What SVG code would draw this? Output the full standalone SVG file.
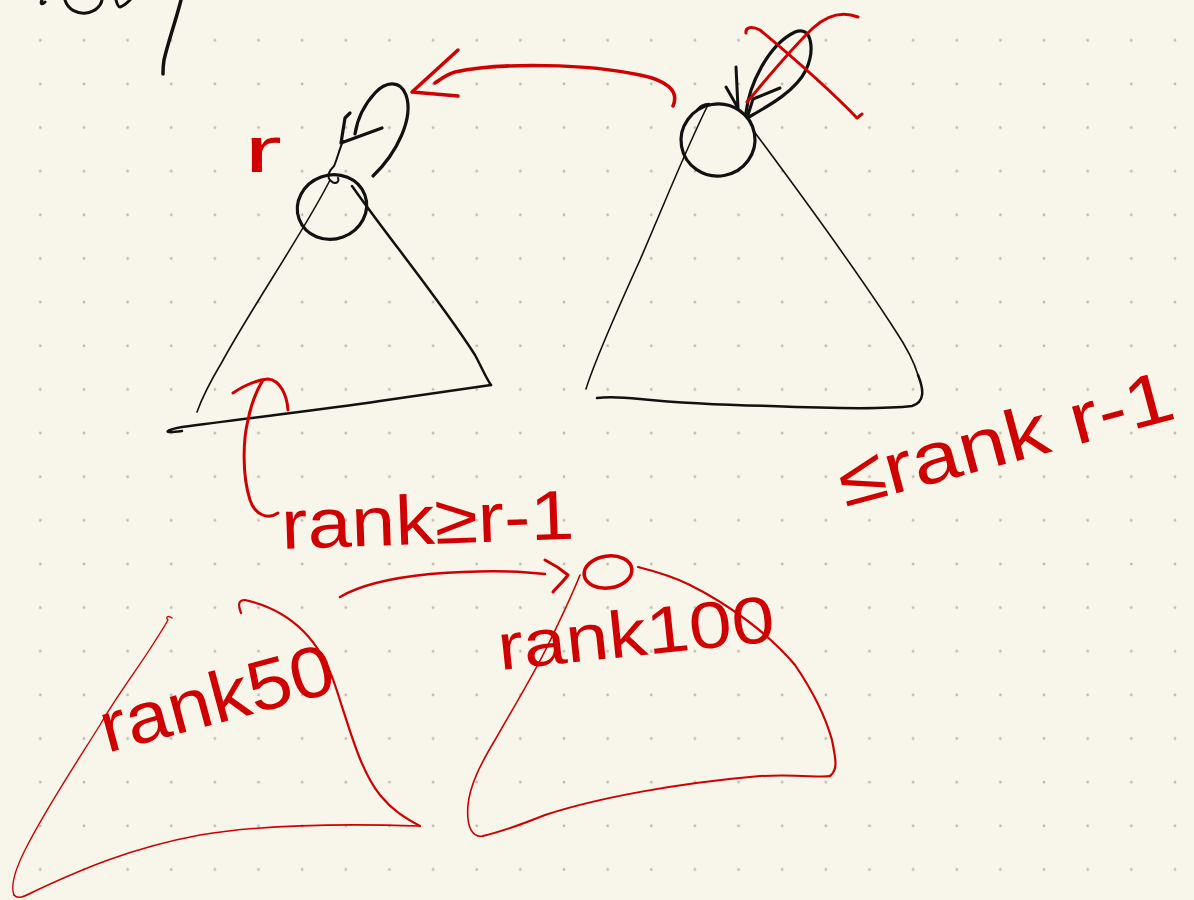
<svg xmlns="http://www.w3.org/2000/svg" width="1194" height="900" viewBox="0 0 1194 900">
  <defs>
    <pattern id="dots" patternUnits="userSpaceOnUse" x="18.5" y="18.5" width="43.64" height="43.64">
      <circle cx="21.82" cy="21.82" r="1.4" fill="#bdbbb1"/>
    </pattern>
    <style>
      .ink{fill:none;stroke:#111;stroke-linecap:round;stroke-linejoin:round}
      .red{fill:none;stroke:#d00000;stroke-linecap:round;stroke-linejoin:round}
      .lbl{font-family:"Liberation Sans",Arial,sans-serif;fill:#d00000}
    </style>
  </defs>
  <rect width="1194" height="900" fill="#f8f6ea"/>
  <rect width="1194" height="900" fill="url(#dots)"/>

  <!-- cut-off ink at the top edge -->
  <g id="top-fragment">
    <path class="ink" stroke-width="3" d="M42,0 C40,4 42,5 45,2"/>
    <path class="ink" stroke-width="3" d="M65,0 C68,10 78,14 86,13 C95,12 101,6 102,0"/>
    <path class="ink" stroke-width="3" d="M116,0 C117,4 118,7 120,7 C124,6 128,2 130,0"/>
    <path class="ink" stroke-width="3.5" d="M181,0 C176,20 168,42 164,60 C163,66 163,70 163,74"/>
  </g>

  <!-- left tree -->
  <g id="left-tree">
    <ellipse class="ink" stroke-width="3.2" cx="332" cy="207" rx="35" ry="32" transform="rotate(-20 332 207)"/>
    <path class="ink" stroke-width="1.6" d="M330,180 C305,230 250,310 222,362 C210,382 202,398 197,412"/>
    <path class="ink" stroke-width="2.5" d="M352,186 C390,240 440,300 475,355 C482,368 486,378 491,385"/>
    <path class="ink" stroke-width="2.5" d="M491,385 L380,401 C320,410 240,419 182,427 C166,430 160,434 182,431"/>
    <path class="ink" stroke-width="2" d="M343,141 C339,150 337,160 334,166 C329,171 326,177 331,181 C335,185 340,182 338,178"/>
    <path class="ink" stroke-width="3.2" d="M373,176 C397,153 414,118 406,95 C400,79 385,82 375,93 C363,106 357,121 355,134"/>
    <path class="ink" stroke-width="3.2" d="M382,128 L341,143 L345,118 L350,113"/>
  </g>

  <!-- right tree -->
  <g id="right-tree">
    <ellipse class="ink" stroke-width="3.2" cx="718" cy="140" rx="37" ry="36" transform="rotate(-10 718 140)"/>
    <path class="ink" stroke-width="2.5" d="M697,110 C700,106 705,104 709,104"/>
    <path class="ink" stroke-width="1.6" d="M708,105 C690,140 670,190 640,260 C615,315 595,360 586,389"/>
    <path class="ink" stroke-width="1.6" d="M753,130 C790,180 850,260 895,330 C905,345 913,358 918,375"/>
    <path class="ink" stroke-width="2.5" d="M918,375 C924,390 925,402 912,406 C880,410 820,408 770,406 C720,405 670,402 640,399 C620,397 605,397 597,398"/>
    <path class="ink" stroke-width="3.2" d="M746,113 C749,85 768,45 795,32 C812,25 815,50 806,70 C796,90 772,104 749,117"/>
    <path class="ink" stroke-width="3" d="M780,88 L753,99 L748,115"/>
    <path class="ink" stroke-width="3" d="M736,67 L738,108 M726,87 L738,108"/>
  </g>

  <!-- red marks -->
  <g id="connectors">
    <path class="red" stroke-width="3.5" d="M673,106 C680,90 665,80 640,75 C590,64 500,62 455,72 C445,75 440,80 435,83"/>
    <path class="red" stroke-width="3.5" d="M458,50 L412,92 L458,96"/>
    <path class="red" stroke-width="3" d="M278,513 C268,520 255,515 250,500 C242,475 243,440 248,420 C252,400 258,388 263,380"/>
    <path class="red" stroke-width="3" d="M233,393 C245,385 258,380 268,379 C280,380 287,395 288,410"/>
    <path class="red" stroke-width="2.5" d="M340,597 C360,585 390,578 430,574 C480,570 520,571 545,574"/>
    <path class="red" stroke-width="3" d="M545,560 C555,565 562,570 568,575 C562,583 556,588 553,592"/>
  </g>

  <g id="cross">
    <path class="red" stroke-width="3" d="M746,33 C745,27 752,26 760,30 C790,55 830,90 857,118 L862,114"/>
    <path class="red" stroke-width="3" d="M747,102 C770,75 790,50 813,28 C825,17 840,10 858,17"/>
  </g>

  <g id="rank50-tree">
    <path class="red" stroke-width="1.4" d="M172,618 C168,615 165,617 168,620 C145,660 120,690 100,725 C75,765 45,810 25,850 C15,870 10,885 14,895"/>
    <path class="red" stroke-width="1.6" d="M14,895 C18,900 25,896 35,891 C80,870 130,848 200,835 C260,825 330,823 420,826"/>
    <path class="red" stroke-width="2.2" d="M241,613 C238,605 238,600 245,600 C290,610 320,640 335,685 C350,730 360,770 380,795 C392,810 405,818 420,826"/>
  </g>

  <g id="rank100-tree">
    <ellipse class="red" stroke-width="3.5" cx="608" cy="572" rx="24" ry="16" transform="rotate(-8 608 572)"/>
    <path class="red" stroke-width="1.6" d="M580,575 C570,600 560,620 548,645 C535,672 515,705 495,740 C480,765 470,785 468,805 C466,828 473,838 483,836"/>
    <path class="red" stroke-width="2" d="M483,836 C500,832 520,825 545,815 C600,797 680,783 760,776 C800,774 820,778 830,776"/>
    <path class="red" stroke-width="2.2" d="M830,776 C838,770 836,760 832,740 C825,715 812,690 795,665 C770,635 730,605 690,585 C670,575 650,570 638,567"/>
  </g>

  <g id="labels">
    <text class="lbl" x="244" y="172" font-size="64" textLength="38" lengthAdjust="spacingAndGlyphs">r</text>
    <text class="lbl" x="282" y="549" font-size="70" textLength="293" lengthAdjust="spacingAndGlyphs" transform="rotate(-2 282 549)">rank≥r-1</text>
    <text class="lbl" font-size="72" textLength="345" lengthAdjust="spacingAndGlyphs" transform="translate(845 507) rotate(-15)">≤rank r-1</text>
    <text class="lbl" font-size="72" textLength="240" lengthAdjust="spacingAndGlyphs" transform="translate(107 753) rotate(-15)">rank50</text>
    <text class="lbl" font-size="66" textLength="278" lengthAdjust="spacingAndGlyphs" transform="translate(500 670) rotate(-6)">rank100</text>
  </g>
</svg>
